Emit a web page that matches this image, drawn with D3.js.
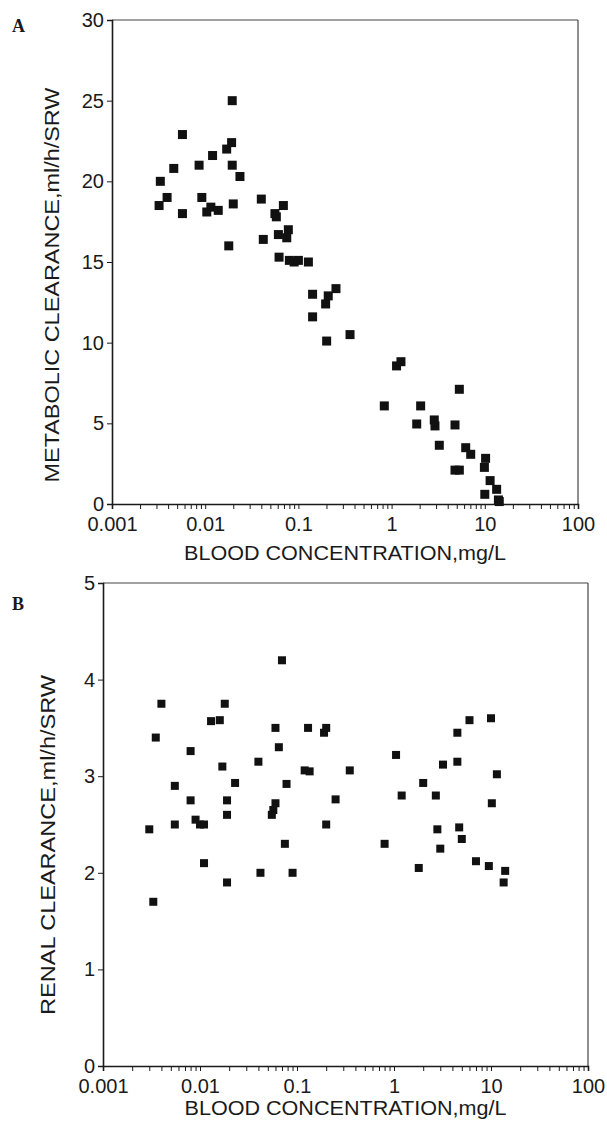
<!DOCTYPE html>
<html><head><meta charset="utf-8">
<script src="https://cdn.jsdelivr.net/npm/d3@7"></script>
<style>body{margin:0;background:#fff}svg{display:block}</style></head>
<body>
<svg id="c" width="607" height="1123"></svg>
<script>
// ---- data ----
const xTickValues = [0.001, 0.01, 0.1, 1, 10, 100];
const xTickLabels = ["0.001", "0.01", "0.1", "1", "10", "100"];
const yTicksA = [0, 5, 10, 15, 20, 25, 30];
const yTicksB = [0, 1, 2, 3, 4, 5];

// Panel A: metabolic clearance vs blood concentration
const metabolicConc = [0.0057,0.0033,0.0046,0.0086,0.012,0.017,0.0192,0.0195,0.0236,0.0195,
  0.0032,0.0039,0.0057,0.0092,0.0104,0.0115,0.0138,0.020,0.0179,0.040,
  0.069,0.056,0.058,0.042,0.061,0.078,0.075,0.062,0.080,0.09,0.1,0.128,
  0.142,0.209,0.253,0.196,0.142,0.201,0.358,
  1.13,1.26,0.835,2.05,5.33,1.86,2.87,2.92,4.79,3.25,6.24,7.06,4.79,5.33,
  10.2,9.9,11.4,13.4,10.0,14.0,14.3];
const metabolicClear = [22.9,20.0,20.8,21.0,21.6,22.0,22.4,21.0,20.3,25.0,
  18.5,19.0,18.0,19.0,18.1,18.4,18.2,18.6,16.0,18.9,
  18.5,18.0,17.8,16.4,16.7,17.0,16.5,15.3,15.1,15.0,15.1,15.0,
  13.0,12.9,13.35,12.4,11.6,10.1,10.5,
  8.56,8.82,6.08,6.08,7.11,4.96,5.21,4.84,4.9,3.64,3.49,3.08,2.1,2.1,
  2.83,2.27,1.45,0.91,0.6,0.25,0.15];

// Panel B: renal clearance vs blood concentration
const renalConc = [0.003,0.0033,0.0035,0.004,0.0055,0.0055,0.008,0.008,0.009,0.01,
  0.011,0.011,0.013,0.016,0.017,0.018,0.019,0.019,0.019,0.023,
  0.04,0.042,0.055,0.057,0.06,0.06,0.065,0.07,0.075,0.078,
  0.09,0.12,0.13,0.135,0.19,0.2,0.2,0.25,0.35,
  0.8,1.05,1.2,1.8,2.0,2.7,2.8,3.0,3.2,4.5,4.5,4.7,5.0,6.0,7.0,
  9.5,10,10.2,11.5,13.5,14];
const renalClear = [2.45,1.7,3.4,3.75,2.9,2.5,3.26,2.75,2.55,2.5,
  2.5,2.1,3.57,3.58,3.1,3.75,2.75,2.6,1.9,2.93,
  3.15,2.0,2.6,2.65,2.72,3.5,3.3,4.2,2.3,2.92,
  2.0,3.06,3.5,3.05,3.45,3.5,2.5,2.76,3.06,
  2.3,3.22,2.8,2.05,2.93,2.8,2.45,2.25,3.12,3.15,3.45,2.47,2.35,3.58,2.12,
  2.07,3.6,2.72,3.02,1.9,2.02];

// ---- drawing ----
const svg = d3.select("#c");
const FONT = "'Liberation Sans', Arial, Helvetica, sans-serif";
const INK = "#1a1a1a";

function panel(o) {
  const x = d3.scaleLog().domain([0.001, 100]).range([o.left, o.right]);
  const y = d3.scaleLinear().domain([0, o.yMax]).range([o.bottom, o.top]);
  const g = svg.append("g");

  // frame (top & right)
  g.append("line").attr("x1", o.left).attr("x2", o.right).attr("y1", o.top).attr("y2", o.top)
    .attr("stroke", "#444").attr("stroke-width", 1.2);
  g.append("line").attr("x1", o.right).attr("x2", o.right).attr("y1", o.top).attr("y2", o.bottom)
    .attr("stroke", "#444").attr("stroke-width", 1.2);

  // minor x ticks
  const minor = [];
  for (let e = -3; e < 2; e++) for (let k = 2; k <= 9; k++) minor.push(k * Math.pow(10, e));
  const gm = g.append("g").attr("transform", `translate(0,${o.bottom})`)
    .call(d3.axisBottom(x).tickValues(minor).tickSize(5).tickFormat(""));
  gm.select(".domain").remove();
  gm.selectAll("line").attr("stroke", INK).attr("stroke-width", 1);

  // x axis
  const gx = g.append("g").attr("transform", `translate(0,${o.bottom})`)
    .call(d3.axisBottom(x).tickValues(xTickValues).tickSize(5).tickPadding(8)
      .tickFormat((d, i) => xTickLabels[i]));
  gx.select(".domain").attr("stroke", INK).attr("stroke-width", 1.6);
  gx.selectAll("line").attr("stroke", INK).attr("stroke-width", 1);
  gx.selectAll("text").attr("font-family", FONT).attr("font-size", 20).attr("fill", INK);

  // y axis
  const gy = g.append("g").attr("transform", `translate(${o.left},0)`)
    .call(d3.axisLeft(y).tickValues(o.yTicks).tickSize(5).tickPadding(3).tickFormat(d3.format("d")));
  gy.select(".domain").attr("stroke", INK).attr("stroke-width", 1.6);
  gy.selectAll("line").attr("stroke", INK).attr("stroke-width", 1);
  gy.selectAll("text").attr("font-family", FONT).attr("font-size", 20).attr("fill", INK);

  // points
  const s = o.size;
  g.append("g").selectAll("rect").data(o.xs.map((v, i) => [v, o.ys[i]])).join("rect")
    .attr("x", d => x(d[0]) - s / 2).attr("y", d => y(d[1]) - s / 2)
    .attr("width", s).attr("height", s).attr("fill", "#111");

  // titles
  g.append("text").attr("x", (o.left + o.right) / 2).attr("y", o.xTitleY)
    .attr("text-anchor", "middle").attr("font-family", FONT).attr("font-size", 20).attr("fill", INK)
    .attr("textLength", o.xTitleLen).attr("lengthAdjust", "spacingAndGlyphs")
    .text("BLOOD CONCENTRATION,mg/L");
  g.append("text").attr("transform", `translate(${o.yTitleX},${o.yTitleC}) rotate(-90)`)
    .attr("text-anchor", "middle").attr("font-family", FONT).attr("font-size", 21).attr("fill", INK)
    .attr("textLength", o.yTitleLen).attr("lengthAdjust", "spacingAndGlyphs")
    .text(o.yTitle);
  g.append("text").attr("x", 12).attr("y", o.letterY)
    .attr("font-family", "'Liberation Serif', 'Times New Roman', serif").attr("font-weight", "bold")
    .attr("font-size", 18).attr("fill", INK).text(o.letter);
}

panel({left: 112, right: 578, top: 20, bottom: 504, yMax: 30, yTicks: yTicksA,
  xs: metabolicConc, ys: metabolicClear, size: 9,
  xTitleY: 560, xTitleLen: 322, yTitleX: 59, yTitleC: 285, yTitleLen: 395,
  yTitle: "METABOLIC CLEARANCE,ml/h/SRW", letter: "A", letterY: 32});

panel({left: 103, right: 588, top: 583, bottom: 1066, yMax: 5, yTicks: yTicksB,
  xs: renalConc, ys: renalClear, size: 8,
  xTitleY: 1115, xTitleLen: 322, yTitleX: 55, yTitleC: 845, yTitleLen: 340,
  yTitle: "RENAL CLEARANCE,ml/h/SRW", letter: "B", letterY: 610});
</script>
</body></html>
